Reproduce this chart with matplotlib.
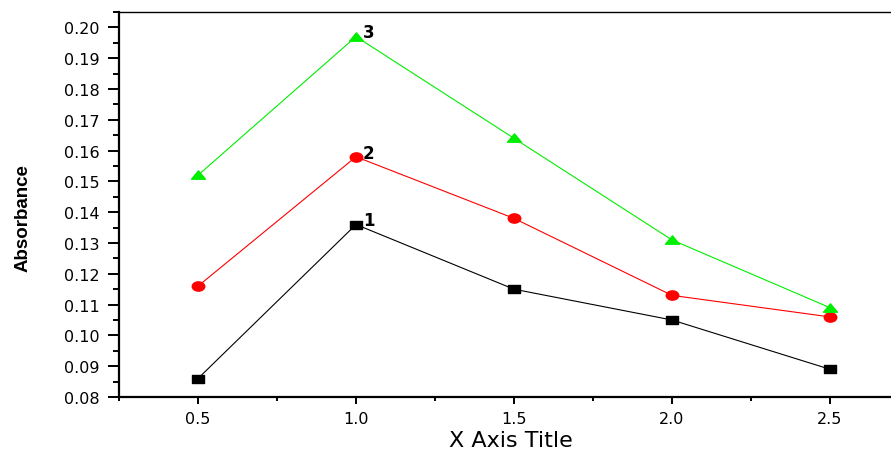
import matplotlib
matplotlib.use("Agg")
import matplotlib.pyplot as plt
from matplotlib.path import Path
from matplotlib.transforms import Affine2D
from matplotlib.ticker import MultipleLocator, FormatStrFormatter

x = [0.5, 1.0, 1.5, 2.0, 2.5]
s1 = [0.086, 0.136, 0.115, 0.105, 0.089]
s2 = [0.116, 0.158, 0.138, 0.113, 0.106]
s3 = [0.152, 0.197, 0.164, 0.131, 0.109]
labels = ["1", "2", "3"]

fig = plt.figure(figsize=(8.91, 4.52), dpi=100)
ax = fig.add_axes([119/891, 54/452, 790/891, 385/452])

sq = Path([(-1.4, -1), (1.4, -1), (1.4, 1), (-1.4, 1), (-1.4, -1)],
          [Path.MOVETO, Path.LINETO, Path.LINETO, Path.LINETO, Path.CLOSEPOLY])
circ = Path.unit_circle().transformed(Affine2D().scale(1.35, 1.0))
tri = Path([(-1.5, -0.8), (1.5, -0.8), (0, 1.0), (-1.5, -0.8)],
           [Path.MOVETO, Path.LINETO, Path.LINETO, Path.CLOSEPOLY])

ax.plot(x, s1, color="black", lw=0.8, marker=sq, ms=8.5, mec="black", mfc="black")
ax.plot(x, s2, color="#ff0000", lw=0.8, marker=circ, ms=9, mec="#ff0000", mfc="#ff0000")
ax.plot(x, s3, color="#00ee00", lw=0.8, marker=tri, ms=10, mec="#00ee00", mfc="#00ee00")

for lab, ser in zip(labels, [s1, s2, s3]):
    ax.annotate(lab, (x[1], ser[1]), xytext=(5, 3), textcoords="offset points",
                fontsize=12, fontweight="bold", family="DejaVu Sans",
                ha="left", va="center")

ax.set_xlim(0.25, 2.75)
ax.set_ylim(0.08, 0.205)
ax.xaxis.set_major_locator(MultipleLocator(0.5))
ax.xaxis.set_minor_locator(MultipleLocator(0.25))
ax.yaxis.set_major_locator(MultipleLocator(0.01))
ax.yaxis.set_minor_locator(MultipleLocator(0.005))
ax.xaxis.set_major_formatter(FormatStrFormatter("%.1f"))
ax.yaxis.set_major_formatter(FormatStrFormatter("%.2f"))

ax.spines["left"].set_linewidth(1.6)
ax.spines["bottom"].set_linewidth(1.6)
ax.spines["top"].set_linewidth(1.0)
ax.spines["right"].set_linewidth(1.0)

ax.tick_params(axis="y", which="major", direction="out", length=8, width=1.4,
               labelsize=11.5, pad=6)
ax.tick_params(axis="y", which="minor", direction="out", length=4, width=1.4)
ax.tick_params(axis="x", which="major", direction="out", length=5, width=1.4,
               labelsize=11.5, pad=5)
ax.tick_params(axis="x", which="minor", direction="out", length=3, width=1.4)
for t in ax.get_xticklabels() + ax.get_yticklabels():
    t.set_family("DejaVu Sans")

ax.set_xlabel("X Axis Title", fontsize=16, family="DejaVu Sans")
ax.xaxis.set_label_coords((511 - 119) / 790, (398 - 441) / 385)
ax.set_ylabel("Absorbance", fontsize=13.5, fontweight="bold",
              family=["Liberation Sans Narrow", "Liberation Sans"])
ax.yaxis.set_label_coords((23 - 119) / 790, (398 - 218) / 385)
ax.xaxis.label.set_va("center")
ax.yaxis.label.set_va("center")

fig.savefig("out.png", dpi=100)
